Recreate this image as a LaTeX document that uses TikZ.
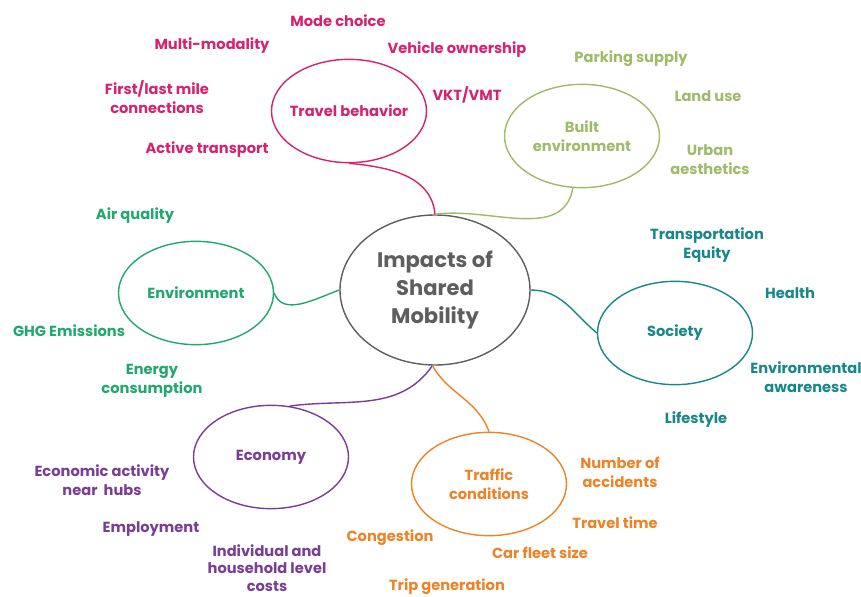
\documentclass[tikz,border=0pt]{standalone}
\usepackage{fontspec}
\setmainfont{Poppins}
\usepackage{xcolor}
\usetikzlibrary{shapes.geometric}
\definecolor{travelc}{HTML}{D4236F}
\definecolor{builtc}{HTML}{9FBA68}
\definecolor{envc}{HTML}{20A86E}
\definecolor{socc}{HTML}{178789}
\definecolor{ecoc}{HTML}{7A3D93}
\definecolor{trafc}{HTML}{EC8326}
\definecolor{impc}{HTML}{5E5E5E}

\begin{document}
\begin{tikzpicture}[x=0.03cm, y=-0.03cm]
      \tikzset{
	  topic/.style={ellipse, draw=#1, line width=1.2pt, minimum width=4.65cm, minimum height=3.1cm, inner sep=0pt},
	  lbl/.style={text=#1, font=\bfseries\fontsize{12.5}{16}\selectfont, align=center, inner sep=1pt},
	  link/.style={draw=#1, line width=1.2pt}
      }
      \useasboundingbox (0, 0) rectangle (861, 597);

      \node at (435, 290) [ellipse, draw=impc, line width=1.2pt, minimum width=5.7cm, minimum height=4.5cm, inner sep=0pt, text=impc, font=\bfseries\fontsize{18}{24}\selectfont, align=center] (imp) {Impacts of\\Shared\\Mobility};

      \node at (349, 111) [topic=travelc, label={[lbl=travelc, name=tbl]center:Travel behavior}] (tb) {};
      \node at (582, 136) [topic=builtc, label={[lbl=builtc, name=bel]center:Built\\environment}] (be) {};
      \node at (196, 293) [topic=envc, label={[lbl=envc, name=envl]center:Environment}] (env) {};
      \node at (675, 333) [topic=socc, label={[lbl=socc, name=socl]center:Society}] (soc) {};
      \node at (271, 457) [topic=ecoc, label={[lbl=ecoc, name=ecol]center:Economy}] (eco) {};
      \node at (489, 484) [topic=trafc, label={[lbl=trafc, name=tcl]center:Traffic\\conditions}] (tc) {};

      \draw [link=travelc] (tb.south) to[out=-5, in=95] (imp.north);
      \draw [link=builtc] (be.-100) to[out=-100, in=8] (imp.north);
      \draw [link=envc] (env.east) to[out=-70, in=200] (imp.west);
      \draw [link=socc] (imp.east) to[out=0, in=140] (soc.west);
      \draw [link=ecoc] (imp.-92) to[out=-125, in=8] (eco.70);
      \draw [link=trafc] (imp.-92) to[out=-60, in=110] (tc.north);

      \node at (338, 21) [lbl=travelc] (mode) {Mode choice};
      \node at (212, 46) [lbl=travelc] (multi) {Multi-modality};
      \node at (457, 50) [lbl=travelc] (own) {Vehicle ownership};
      \node at (157, 97) [lbl=travelc] (first) {First/last mile\\connections};
      \node at (467, 95) [lbl=travelc] (vkt) {VKT/VMT};
      \node at (207, 150) [lbl=travelc] (active) {Active transport};

      \node at (631, 59) [lbl=builtc] (park) {Parking supply};
      \node at (708, 96) [lbl=builtc] (land) {Land use};
      \node at (710, 160) [lbl=builtc] (urban) {Urban\\aesthetics};

      \node at (135, 216) [lbl=envc] (air) {Air quality};
      \node at (69, 331) [lbl=envc] (ghg) {GHG Emissions};
      \node at (152, 381) [lbl=envc] (energy) {Energy\\consumption};

      \node at (707, 245) [lbl=socc] (equity) {Transportation\\Equity};
      \node at (790, 293) [lbl=socc] (health) {Health};
      \node at (806, 377) [lbl=socc] (aware) {Environmental\\awareness};
      \node at (696, 420) [lbl=socc] (life) {Lifestyle};

      \node at (102, 480) [lbl=ecoc] (act) {Economic activity\\near\ \ hubs};
      \node at (151, 529) [lbl=ecoc] (empl) {Employment};
      \node at (267, 568) [lbl=ecoc, font=\bfseries\fontsize{12.5}{15}\selectfont] (costs) {Individual and\\household level\\costs};

      \node at (620, 472) [lbl=trafc] (acc) {Number of\\accidents};
      \node at (615, 523) [lbl=trafc] (ttime) {Travel time};
      \node at (540, 553) [lbl=trafc] (fleet) {Car fleet size};
      \node at (390, 538) [lbl=trafc] (cong) {Congestion};
      \node at (447, 587) [lbl=trafc] (trip) {Trip generation};
\end{tikzpicture}
\end{document}
